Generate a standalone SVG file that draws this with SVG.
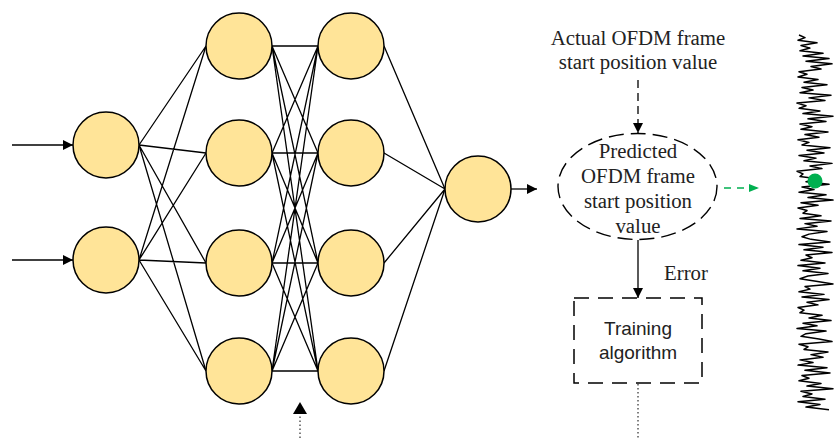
<svg xmlns="http://www.w3.org/2000/svg" width="835" height="438" viewBox="0 0 835 438">
<style>
.n{fill:#FFE498;stroke:#000;stroke-width:1.5}
.e{stroke:#000;stroke-width:1.3;fill:none}
.serif{font-family:"Liberation Serif","Times New Roman",serif;font-size:20.8px;fill:#222;text-anchor:middle}
.sans{font-family:"Liberation Sans",Arial,sans-serif;font-size:19px;fill:#222;text-anchor:middle}
</style>
<defs>
<marker id="ah" viewBox="0 0 10 10" refX="10" refY="5" markerWidth="10" markerHeight="10" markerUnits="userSpaceOnUse" orient="auto"><path d="M0,0 L10,5 L0,10 z" fill="#000"/></marker>
<marker id="ahg" viewBox="0 0 10 10" refX="10" refY="5" markerWidth="10" markerHeight="10" markerUnits="userSpaceOnUse" orient="auto"><path d="M0,1 L10,5 L0,9 z" fill="#00B050"/></marker>
<marker id="ahb" viewBox="0 0 12 14" refX="12" refY="7" markerWidth="12" markerHeight="14" markerUnits="userSpaceOnUse" orient="auto"><path d="M0,0 L12,7 L0,14 z" fill="#000"/></marker>
</defs>
<g id="connectors" class="e">
<line x1="12" y1="145" x2="73" y2="145" marker-end="url(#ah)"/>
<line x1="12" y1="260" x2="73" y2="260" marker-end="url(#ah)"/>
<path d="M139,145 L206,46 M139,145 L206,153 M139,145 L206,263 M139,145 L206,371 M139,260 L206,46 M139,260 L206,153 M139,260 L206,263 M139,260 L206,371"/>
<path d="M272,46 L318,46 M272,46 L318,153 M272,46 L318,263 M272,46 L318,371 M272,153 L318,46 M272,153 L318,153 M272,153 L318,263 M272,153 L318,371 M272,263 L318,46 M272,263 L318,153 M272,263 L318,263 M272,263 L318,371 M272,371 L318,46 M272,371 L318,153 M272,371 L318,263 M272,371 L318,371"/>
<path d="M384,46 L445,189 M384,153 L445,189 M384,263 L445,189 M384,371 L445,189"/>
<line x1="511" y1="189" x2="537" y2="189" marker-end="url(#ah)"/>
<line x1="638" y1="80" x2="638" y2="133" stroke-dasharray="8,5" marker-end="url(#ah)"/>
<line x1="638" y1="240" x2="638" y2="298" marker-end="url(#ah)"/>
<line x1="638" y1="384" x2="638" y2="438" stroke-width="1" stroke-dasharray="1.5,2.5"/>
<line x1="300" y1="438" x2="300" y2="402" stroke-width="1" stroke-dasharray="1.5,2.5" marker-end="url(#ahb)"/>
<line x1="724" y1="188" x2="759" y2="188" stroke="#00B050" stroke-dasharray="7,6" marker-end="url(#ahg)"/>
</g>
<g id="in1"><circle class="n" cx="106" cy="145" r="33"/></g>
<g id="in2"><circle class="n" cx="106" cy="260" r="33"/></g>
<g id="h1a"><circle class="n" cx="239" cy="46" r="33"/></g>
<g id="h1b"><circle class="n" cx="239" cy="153" r="33"/></g>
<g id="h1c"><circle class="n" cx="239" cy="263" r="33"/></g>
<g id="h1d"><circle class="n" cx="239" cy="371" r="33"/></g>
<g id="h2a"><circle class="n" cx="351" cy="46" r="33"/></g>
<g id="h2b"><circle class="n" cx="351" cy="153" r="33"/></g>
<g id="h2c"><circle class="n" cx="351" cy="263" r="33"/></g>
<g id="h2d"><circle class="n" cx="351" cy="371" r="33"/></g>
<g id="out"><circle class="n" cx="478" cy="189" r="33"/></g>
<g id="actual">
<text class="serif" x="638" y="45">Actual OFDM frame</text>
<text class="serif" x="638" y="69">start position value</text>
</g>
<g id="predicted">
<ellipse cx="637.5" cy="186.5" rx="79.5" ry="53" fill="none" stroke="#000" stroke-width="1.4" stroke-dasharray="15,7"/>
<text class="serif" x="638" y="158">Predicted</text>
<text class="serif" x="638" y="183">OFDM frame</text>
<text class="serif" x="638" y="208">start position</text>
<text class="serif" x="638" y="233">value</text>
</g>
<g id="error"><text class="serif" x="686" y="280">Error</text></g>
<g id="training">
<rect x="574" y="298" width="128" height="85" fill="none" stroke="#000" stroke-width="1.5" stroke-dasharray="15,9"/>
<text class="sans" x="638" y="335">Training</text>
<text class="sans" x="638" y="359">algorithm</text>
</g>
<g id="signal">
<polyline fill="none" stroke="#000" stroke-width="1.5" vector-effect="non-scaling-stroke" stroke-linejoin="round" transform="translate(815,35) scale(1,2.62)" points="-16,0 -10,1 -17,2 2,3 -14,4 -5,5 -15,6 8,7 -12,8 14,9 -9,10 17,11 -4,12 6,13 -16,14 -8,15 -17,16 3,17 -11,18 12,19 -13,20 -2,21 -15,22 16,23 -6,24 10,25 -18,26 -9,27 -16,28 5,29 -12,30 18,31 -7,32 11,33 -15,34 -3,35 -14,36 13,37 -10,38 4,39 -17,40 -6,41 -13,42 15,43 -8,44 9,45 -16,46 1,47 -11,48 17,49 -5,50 7,51 -18,52 -12,53 -15,54 4,55 -9,56 14,57 -13,58 -1,59 -16,60 11,61 -7,62 18,63 -14,64 3,65 -17,66 -8,67 -12,68 6,69 -15,70 16,71 -10,72 2,73 -18,74 12,75 -6,76 -13,77 -4,78 15,79 -16,80 8,81 -11,82 17,83 -9,84 -3,85 -14,86 10,87 -17,88 5,89 -12,90 13,91 -7,92 -15,93 1,94 18,95 -10,96 -5,97 -16,98 9,99 -13,100 14,101 -8,102 3,103 -17,104 -11,105 -15,106 7,107 -6,108 16,109 -12,110 2,111 -18,112 11,113 -9,114 -14,115 4,116 17,117 -16,118 -7,119 -11,120 13,121 -4,122 8,123 -15,124 -2,125 -17,126 12,127 -10,128 15,129 -13,130 -6,131 -16,132 6,133 -8,134 18,135 -14,136 -3,137 -12,138 10,139 -17,140 5,141 -9,142 14,143"/>
<circle cx="815" cy="181" r="7.5" fill="#00B050"/>
</g>
</svg>
